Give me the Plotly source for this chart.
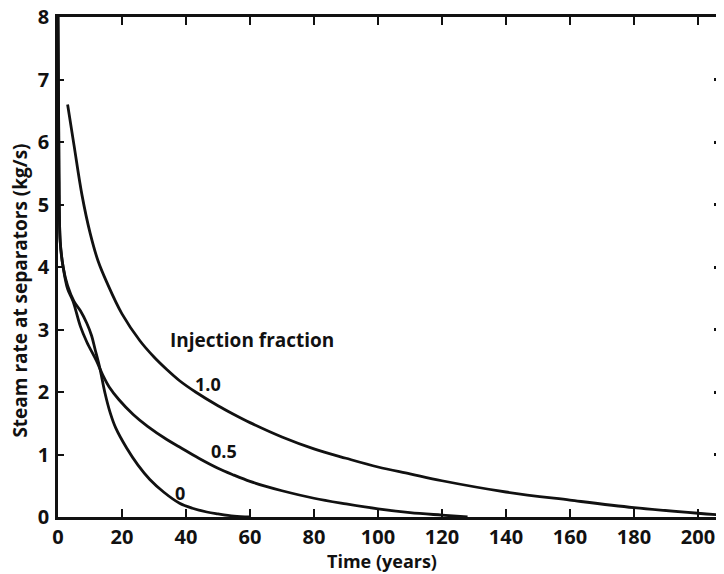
import plotly.graph_objects as go

# Data
t_f0 = [0, 0.3, 0.7, 1.6, 3, 5, 7, 9, 10.5, 11.6, 13, 14.7, 16.3, 18, 21.5, 25, 28.7, 33, 38, 42, 46.5, 50, 55, 60]
v_f0 = [8, 5.5, 4.4, 4.0, 3.7, 3.45, 3.3, 3.1, 2.9, 2.68, 2.4, 1.98, 1.67, 1.43, 1.1, 0.83, 0.6, 0.4, 0.22, 0.14, 0.08, 0.05, 0.015, 0.0]

t_f05 = [0, 0.3, 0.7, 1.6, 3, 4.7, 7, 9, 12, 14, 16, 19, 23.5, 28, 34, 38, 44, 50, 55, 60, 65, 70, 80, 90, 100, 110, 120, 128]
v_f05 = [8, 5.5, 4.4, 4.0, 3.65, 3.45, 3.05, 2.8, 2.5, 2.27, 2.08, 1.88, 1.64, 1.45, 1.24, 1.12, 0.94, 0.78, 0.67, 0.57, 0.49, 0.42, 0.30, 0.21, 0.13, 0.07, 0.03, 0.0]

t_f10 = [3, 5, 7.5, 10, 12.5, 15.3, 20, 25.6, 30, 34, 38, 43, 50, 55, 60, 70, 80, 90, 100, 110, 120, 140, 160, 180, 200, 208]
v_f10 = [6.6, 5.95, 5.15, 4.55, 4.1, 3.75, 3.25, 2.82, 2.56, 2.36, 2.18, 2.0, 1.78, 1.64, 1.51, 1.28, 1.09, 0.94, 0.8, 0.69, 0.58, 0.4, 0.27, 0.15, 0.06, 0.03]

curve_labels = ["0", "0.5", "1.0"]
label_t = [38.1, 51.9, 46.9]
label_v = [0.38, 1.06, 2.13]

x_ticks = list(range(0, 201, 20))
y_ticks = list(range(0, 9))

FONT = "Open Sans"
ink = "#111111"

fig = go.Figure()
for tt, vv, name in [(t_f0, v_f0, "0"), (t_f05, v_f05, "0.5"), (t_f10, v_f10, "1.0")]:
    fig.add_trace(go.Scatter(x=tt, y=vv, mode="lines", name=name,
                             line=dict(color=ink, width=2.8, shape="spline", smoothing=1.0),
                             showlegend=False, hoverinfo="skip"))

# transparent trace so the right-side tick axis is drawn
fig.add_trace(go.Scatter(x=[100], y=[4], xaxis="x", yaxis="y2", mode="markers",
                         marker=dict(opacity=0), showlegend=False, hoverinfo="skip"))

for lab, lt, lv in zip(curve_labels, label_t, label_v):
    fig.add_annotation(x=lt, y=lv, text=lab, showarrow=False,
                       font=dict(family=FONT, size=18, color=ink, weight="bold"))

fig.add_annotation(x=60.7, y=2.84, text="Injection fraction", showarrow=False,
                   font=dict(family=FONT, size=19, color=ink, weight="bold"))

fig.add_annotation(xref="paper", yref="paper", x=-0.058, y=0.452, xanchor="center", yanchor="middle",
                   text="Steam rate at separators (kg/s)", textangle=-90,
                   showarrow=False, font=dict(family=FONT, size=19, color=ink, weight="bold"))

fig.add_annotation(xref="paper", yref="paper", x=0.489, y=-0.088, xanchor="center", yanchor="middle",
                   text="Time (years)", showarrow=False,
                   font=dict(family=FONT, size=18, color=ink, weight="bold"))

fig.update_layout(
    width=724, height=574,
    margin=dict(l=50, r=12, t=9, b=65, autoexpand=False),
    paper_bgcolor="white", plot_bgcolor="white",
    xaxis=dict(range=[0, 206.9], tickvals=x_ticks, ticks="inside", ticklen=8, tickwidth=2,
               tickcolor=ink, showline=True, linecolor=ink, linewidth=2.5, mirror="ticks",
               showgrid=False, zeroline=False, automargin=False, ticklabeloverflow="allow",
               tickfont=dict(family=FONT, size=20, color=ink, weight="bold")),
    yaxis=dict(range=[0, 8], tickvals=y_ticks, ticks="inside", ticklen=6, tickwidth=2,
               tickcolor=ink, showline=True, linecolor=ink, linewidth=2.5,
               showgrid=False, zeroline=False, ticklabelstandoff=2, automargin=False,
               ticklabeloverflow="allow",
               tickfont=dict(family=FONT, size=20, color=ink, weight="bold")),
    yaxis2=dict(range=[0, 8], tickvals=y_ticks, overlaying="y", side="right", anchor="x",
                ticks="inside", ticklen=6, tickwidth=2.5, tickcolor=ink, automargin=False,
                showline=False, showgrid=False, zeroline=False, showticklabels=False),
)

fig.write_html("out.html")
